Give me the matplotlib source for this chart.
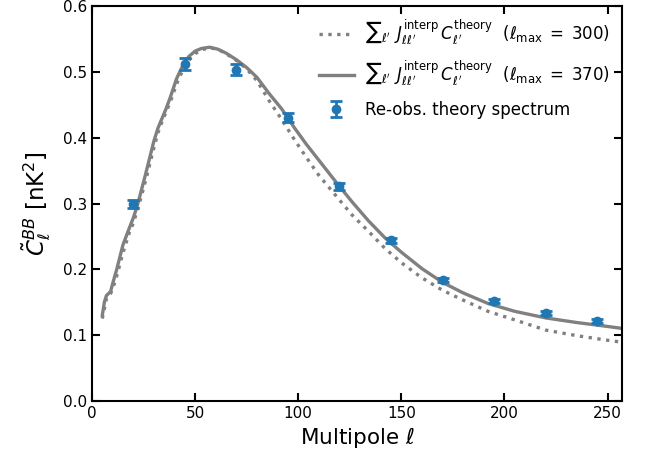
import matplotlib
matplotlib.use("Agg")
import matplotlib.pyplot as plt

# re-observed theory spectrum (bin centres, values, errors)
ell_bins = [20, 45, 70, 95, 120, 145, 170, 195, 220, 245]
cl_bins = [0.300, 0.512, 0.504, 0.431, 0.326, 0.244, 0.183, 0.152, 0.133, 0.122]
cl_err = [0.006, 0.009, 0.008, 0.0075, 0.005, 0.004, 0.003, 0.003, 0.003, 0.003]

# sum_l' J^interp C^theory, lmax = 370 (solid)
ell_370 = [5, 6, 7, 8, 9, 10, 12, 15, 18, 20, 22, 24, 26, 28, 30, 32, 34, 36, 38,
           41, 44, 47, 50, 53, 57, 61, 65, 70, 75, 80, 86, 92, 98, 104, 110,
           118, 126, 134, 142, 150, 160, 170, 180, 192, 205, 220, 235, 250, 257]
cl_370 = [0.130, 0.150, 0.160, 0.163, 0.166, 0.178, 0.200, 0.237, 0.262, 0.278,
          0.297, 0.321, 0.345, 0.370, 0.395, 0.415, 0.430, 0.445, 0.462,
          0.490, 0.510, 0.524, 0.532, 0.536, 0.538, 0.535, 0.529, 0.519, 0.507,
          0.492, 0.467, 0.444, 0.416, 0.390, 0.366,
          0.334, 0.303, 0.274, 0.248, 0.226, 0.201, 0.180, 0.164, 0.148, 0.136,
          0.126, 0.119, 0.113, 0.110]

# same, lmax = 300 (dotted)
ell_300 = [5, 6, 7, 8, 9, 10, 12, 15, 18, 20, 22, 24, 26, 28, 30, 32, 34, 36, 38,
           41, 44, 47, 50, 53, 57, 61, 65, 70, 75, 80, 86, 92, 98, 104, 110,
           118, 126, 134, 142, 150, 160, 170, 180, 192, 205, 220, 235, 250, 257]
cl_300 = [0.125, 0.140, 0.155, 0.160, 0.163, 0.170, 0.190, 0.225, 0.255, 0.270,
          0.290, 0.312, 0.335, 0.360, 0.385, 0.408, 0.425, 0.440, 0.455,
          0.482, 0.503, 0.518, 0.528, 0.534, 0.537, 0.535, 0.528, 0.518, 0.505,
          0.487, 0.456, 0.428, 0.398, 0.370, 0.343,
          0.313, 0.283, 0.258, 0.232, 0.210, 0.187, 0.168, 0.153, 0.136, 0.123,
          0.1075, 0.099, 0.092, 0.089]

plt.rcParams["font.family"] = "DejaVu Sans"
plt.rcParams["mathtext.fontset"] = "dejavusans"

fig = plt.figure(figsize=(6.52, 4.61), dpi=100)
ax = fig.add_axes([0.1411, 0.1308, 0.954 - 0.1411, 0.986 - 0.1308])

lab = (r"${\sum}_{\ell'}\;\, J_{\ell\ell'}^{\rm interp}\, C_{\ell'}^{\rm theory}$"
       r"  $(\ell_{\rm max}\;=\;%d)$")
ax.plot(ell_300, cl_300, ls=":", color="gray", lw=2.4, label=lab % 300)
ax.plot(ell_370, cl_370, ls="-", color="gray", lw=2.4, label=lab % 370)
ax.errorbar(ell_bins, cl_bins, yerr=cl_err, fmt="o", color="C0", ms=6,
            capsize=4.5, elinewidth=2, capthick=2,
            label="Re-obs. theory spectrum")

ax.set_xlim(0, 257)
ax.set_ylim(0, 0.6)
ax.set_xlabel(r"Multipole $\ell$", fontsize=15.5, labelpad=3)
ax.set_ylabel(r"$\tilde{C}_\ell^{BB}$ [nK$^2$]", fontsize=16.5, labelpad=8)
ax.tick_params(direction="in", top=True, right=True, length=6, width=1.5,
               labelsize=11)
for s in ax.spines.values():
    s.set_linewidth(1.5)
ax.legend(loc="upper right", frameon=False, fontsize=12,
          borderaxespad=0.3, labelspacing=0.75, handlelength=2.1,
          handletextpad=0.7)

fig.savefig("out.png", dpi=100)
